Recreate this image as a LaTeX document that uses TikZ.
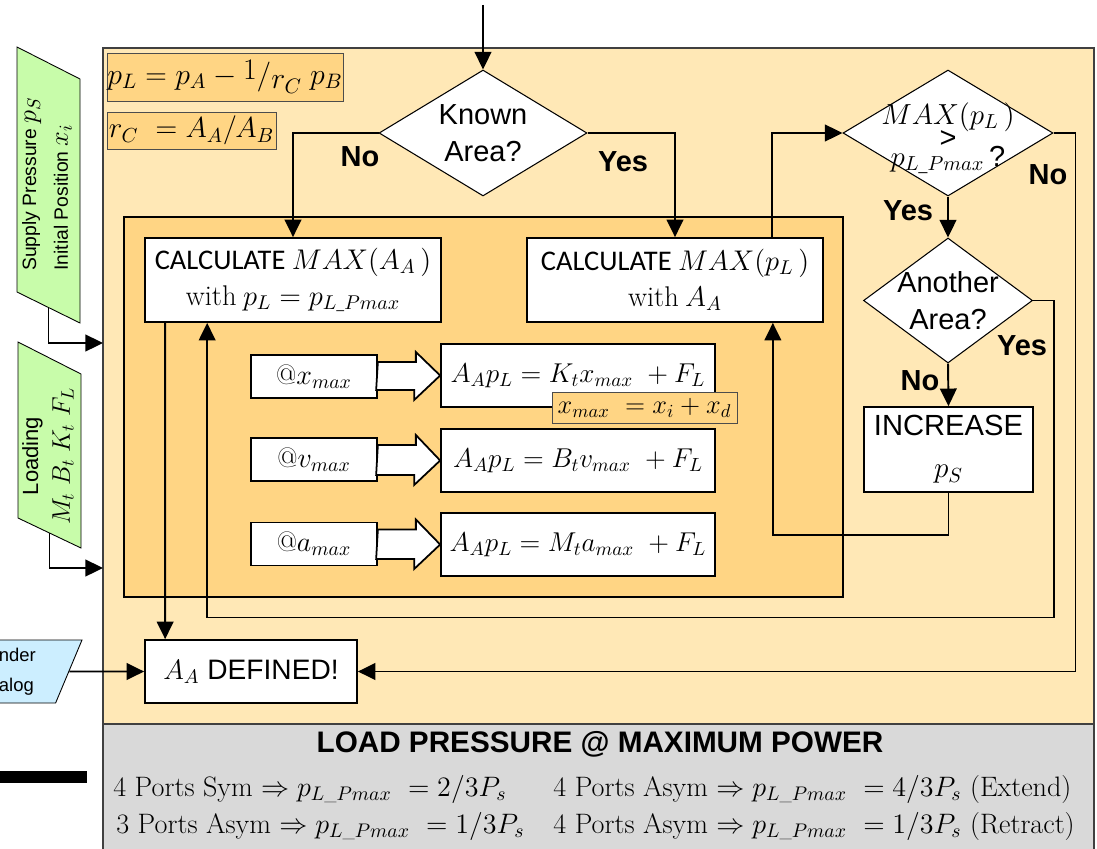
\RequirePackage{fix-cm}
\documentclass[tikz,border=0pt]{standalone}
\usepackage[no-math]{fontspec}
\newfontfamily\arialf{Liberation Sans}
\newfontfamily\calf{Carlito}
\usetikzlibrary{arrows.meta,calc,shapes.geometric}
\definecolor{figline}{RGB}{0,0,0}
\definecolor{figdot}{RGB}{255,200,90}
\definecolor{figouter}{RGB}{255,232,182}
\definecolor{figinner}{RGB}{255,213,132}
\definecolor{figgreen}{RGB}{200,252,170}
\definecolor{figblue}{RGB}{204,238,255}
\definecolor{figgray}{RGB}{217,217,217}
\newcommand\fsz[2]{\fontsize{#1}{#2}\selectfont}
\newcommand\usc{\mbox{\fsz{9}{9}\_}}
\tikzset{
  box/.style     ={draw=figline, fill=white, line width=1pt, inner sep=0pt},
  calcbox/.style ={box, minimum width=5.92cm, minimum height=1.68cm, align=center, font=\calf\fsz{16.2}{20.5}},
  atbox/.style   ={box, minimum width=2.52cm, minimum height=0.86cm, font=\fsz{16}{18}},
  eqbox/.style   ={box, minimum width=5.48cm, minimum height=1.26cm, font=\fsz{15.5}{18}},
  note/.style    ={draw=figline!70, fill=figinner, line width=0.5pt, inner sep=0pt},
  decision/.style={diamond, draw=figline, fill=white, line width=0.6pt, inner sep=0pt},
  qtext/.style   ={font=\arialf\fsz{16.5}{21}, align=center, inner sep=0pt},
  yn/.style      ={font=\arialf\bfseries\fsz{16.5}{18}, inner sep=0pt},
  inp/.style     ={trapezium, trapezium left angle=64, trapezium right angle=116,
                   trapezium stretches body=true, draw=figline, line width=0.5pt, inner sep=2pt},
  inpath/.style  ={draw=figline, line width=0.5pt, fill=figgreen},
  intext/.style  ={font=\arialf\fsz{11}{18}, inner sep=0pt},
  ports/.style   ={font=\fsz{16}{18}, inner sep=0pt, anchor=west},
  conn/.style    ={draw=figline, line width=1.1pt, -{Triangle[length=10pt,width=9.5pt]}},
  fat/.style     ={draw=figline, fill=white, line width=1pt, line join=miter},
}
\begin{document}
\begin{tikzpicture}[x=0.02cm, y=-0.02cm]
  \useasboundingbox (0,0) rectangle (1097,848);
  \clip (0,0) rectangle (1097,848);
  % panels
  \filldraw[fill=figouter, draw=figline!75, line width=0.6pt] (103,48) rectangle (1094,724);
  \filldraw[fill=figgray, draw=figline!75, line width=0.6pt] (103,724) rectangle (1094,852);
  \filldraw[fill=figinner, draw=figline, line width=1pt] (124,217) rectangle (843,597);
  \fill[figline] (0,771) rectangle (87,783);

  % formulas
  \node[note, minimum width=4.72cm, minimum height=0.96cm, font=\fsz{17}{20}] (plform) at (225,77)
    {$p_L = p_A - \raisebox{0.35ex}{$1$}/\raisebox{-0.35ex}{$r_C$}\; p_B$};
  \node[note, minimum width=3.38cm, minimum height=0.74cm, font=\fsz{16.5}{20}] (rcform) at (191.5,130.5)
    {$r_C\ = A_A/A_B$};

  % decisions
  \node[decision, minimum width=4.16cm, minimum height=2.52cm,
        label={[qtext]center:{Known\\Area?}}] (known) at (483,133) {};
  \node[decision, minimum width=4.2cm, minimum height=2.52cm,
        label={[qtext, yshift=-3pt]center:{$MAX(p_L\,)$\\[-8pt]>\\[-10pt]$p_{L\usc Pmax}$\,?}}] (maxq) at (948,133) {};
  \node[decision, minimum width=3.38cm, minimum height=2.5cm,
        label={[qtext]center:{Another\\Area?}}] (another) at (948,300.5) {};

  % process boxes
  \node[calcbox] (calcA) at (293,280) {CALCULATE $MAX(A_A\,)$\\{\rmfamily with} $p_L = p_{L\usc Pmax}$};
  \node[calcbox] (calcP) at (675,280) {CALCULATE $MAX(p_L\,)$\\{\rmfamily with} $A_A$};
  \node[atbox] (xbox) at (314,376.5) {@$x_{max}$};
  \node[atbox] (vbox) at (314,459.5) {@$v_{max}$};
  \node[atbox] (abox) at (314,544) {@$a_{max}$};
  \node[eqbox] (eqx) at (578,375.5) {$A_A p_L = K_t x_{max}\ + F_L$};
  \node[eqbox] (eqv) at (578,460.5) {$A_A p_L = B_t v_{max}\ + F_L$};
  \node[eqbox] (eqa) at (578,544.5) {$A_A p_L = M_t a_{max}\ + F_L$};
  \node[note, minimum width=3.7cm, minimum height=0.62cm, font=\fsz{15}{18}] (xdef) at (644.5,407.5)
    {$x_{max}\ = x_i + x_d$};
  \node[box, minimum width=3.38cm, minimum height=1.7cm, align=center,
        font=\arialf\fsz{16.6}{24}] (increase) at (948.5,449.5) {INCREASE\\$p_S$};
  \node[box, minimum width=4.24cm, minimum height=1.26cm, font=\arialf\fsz{16}{18}] (defined) at (251,671.5)
    {$A_A$ DEFINED!};

  % inputs
  \filldraw[inpath] (17,47) -- (80,79) -- (80,323) -- (17,292) -- cycle;
  \coordinate (supplyout) at (48.5,307.5);
  \node[intext, rotate=90, anchor=west, align=left] (supply) at (47,271)
    {Supply Pressure {\fsz{15}{18}$p_S$}\\Initial Position {\fsz{15}{18}$x_i$}};
  \filldraw[inpath] (18,342) -- (81,374) -- (81,548) -- (18,518) -- cycle;
  \coordinate (loadingout) at (49.5,533);
  \node[intext, rotate=90, align=center, font=\arialf\fsz{12.5}{18}] (loading) at (48,456)
    {Loading\\{\fsz{14.5}{18}$M_t\ B_t\ K_t\ F_L$}};
  \node[inp, fill=figblue, minimum width=3.2cm, minimum height=1.26cm, align=center,
        font=\arialf\fsz{10.5}{17}] (catalog) at (2,671.5) {Cylinder\\Catalog};

  % branch labels
  \node[yn] (noA) at (360,157) {No};
  \node[yn] (yesA) at (623,162) {Yes};
  \node[yn] (yesB) at (908,211) {Yes};
  \node[yn] (noB) at (1048,175) {No};
  \node[yn] (yesC) at (1022,346) {Yes};
  \node[yn] (noC) at (920,381) {No};

  % footer
  \node[font=\arialf\bfseries\fsz{16.9}{18}, inner sep=0pt] (lptitle) at (600,744)
    {LOAD PRESSURE @ MAXIMUM POWER};
  \node[ports] (symrow) at (113,789) {4 Ports Sym $\Rightarrow p_{L\usc Pmax}\ = 2/3P_s$};
  \node[ports] (asymrow) at (116,826) {3 Ports Asym $\Rightarrow p_{L\usc Pmax}\ = 1/3P_s$};
  \node[ports] (extrow) at (553,789) {4 Ports Asym $\Rightarrow p_{L\usc Pmax}\ = 4/3P_s$ (Extend)};
  \node[ports] (retrow) at (553,826) {4 Ports Asym $\Rightarrow p_{L\usc Pmax}\ = 1/3P_s$ (Retract)};

  % connectors
  \coordinate (top) at (483,5);
  \coordinate (inS) at (103,343);
  \coordinate (inL) at (103,568);
  \foreach \s/\t in {xbox/eqx,vbox/eqv,abox/eqa}
    \draw[fat] ($(\s.east)+(0,-14.5)$) -- ++(38,0) -- ++(0,-10) -- (\t.west)
      -- ++(-26,24.5) -- ++(0,-10) -- ++(-38,0) -- cycle;
  \draw[conn] (top) -- (known.north);
  \draw[conn] (known.west) -| (calcA.north);
  \draw[conn] (known.east) -| (calcP.north);
  \draw[conn] ($(calcP.north east)+(-52,0)$) |- (maxq.west);
  \draw[conn] (maxq.south) -- (another.north);
  \draw[conn] (maxq.east) -- ++(22,0) |- (defined.east);
  \draw[conn] (another.south) -- (increase.north);
  \draw[conn] (another.east) -- ++(21,0) -- ++(0,317) -| ($(calcA.south west)+(63,0)$);
  \draw[conn] (increase.south) -- ++(0,42) -| ($(calcP.south east)+(-51,0)$);
  \draw[conn] ($(calcA.south west)+(21,0)$) -- ($(defined.north west)+(21,0)$);
  \draw[conn] (catalog.east) -- (defined.west);
  \draw[conn] (supplyout) |- (inS);
  \draw[conn] (loadingout) |- (inL);
\end{tikzpicture}
\end{document}
